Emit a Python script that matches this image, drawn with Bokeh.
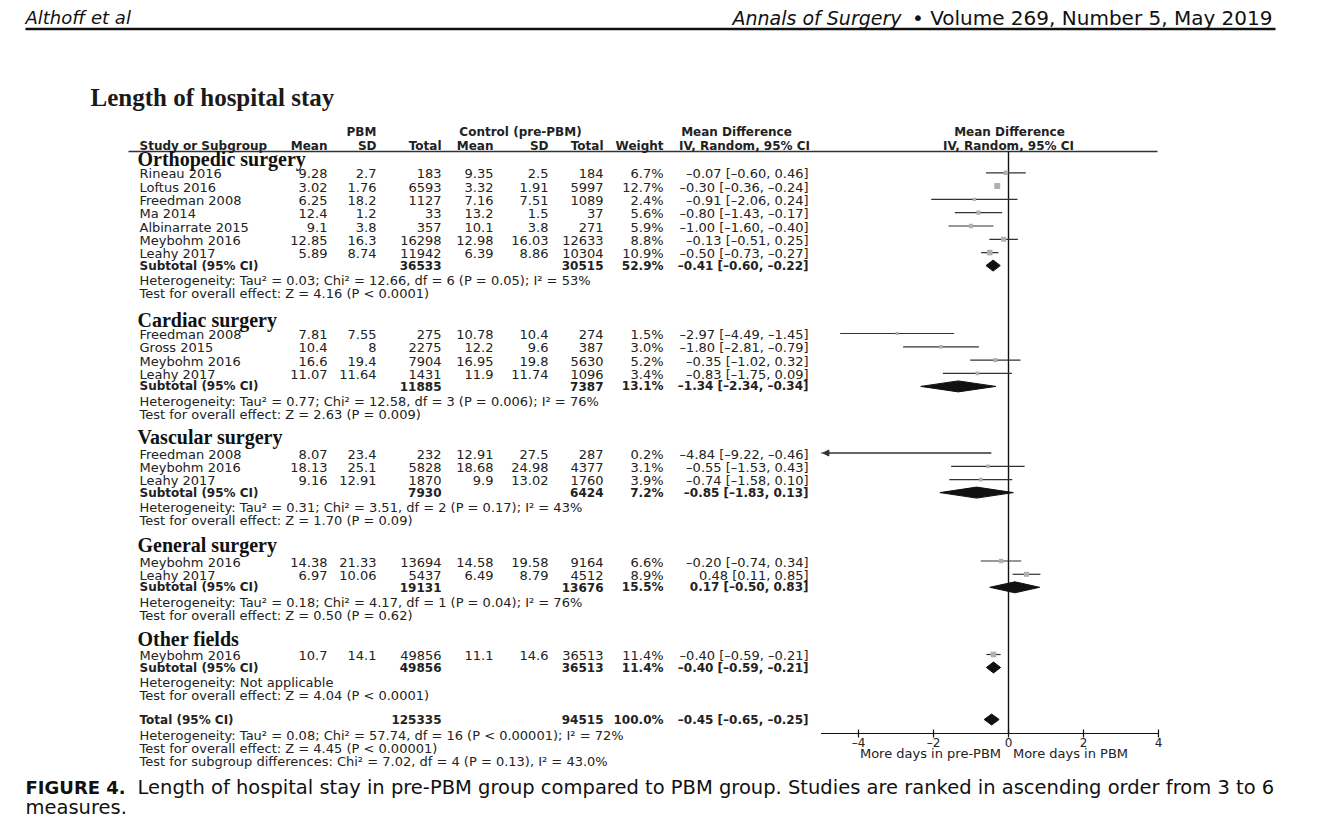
from bokeh.plotting import figure
from bokeh.models import ColumnDataSource, Range1d, Arrow, NormalHead
from bokeh.core.properties import value
from bokeh.embed import file_html
from bokeh.resources import INLINE

# ---------------- data ----------------
groups = ["Orthopedic surgery", "Cardiac surgery", "Vascular surgery",
          "General surgery", "Other fields"]
study = ["Rineau 2016", "Loftus 2016", "Freedman 2008", "Ma 2014", "Albinarrate 2015",
         "Meybohm 2016", "Leahy 2017",
         "Freedman 2008", "Gross 2015", "Meybohm 2016", "Leahy 2017",
         "Freedman 2008", "Meybohm 2016", "Leahy 2017",
         "Meybohm 2016", "Leahy 2017",
         "Meybohm 2016"]
group_idx = [0, 0, 0, 0, 0, 0, 0, 1, 1, 1, 1, 2, 2, 2, 3, 3, 4]
pbm_mean = [9.28, 3.02, 6.25, 12.4, 9.1, 12.85, 5.89, 7.81, 10.4, 16.6, 11.07,
            8.07, 18.13, 9.16, 14.38, 6.97, 10.7]
pbm_sd = [2.7, 1.76, 18.2, 1.2, 3.8, 16.3, 8.74, 7.55, 8, 19.4, 11.64,
          23.4, 25.1, 12.91, 21.33, 10.06, 14.1]
pbm_n = [183, 6593, 1127, 33, 357, 16298, 11942, 275, 2275, 7904, 1431,
         232, 5828, 1870, 13694, 5437, 49856]
ctl_mean = [9.35, 3.32, 7.16, 13.2, 10.1, 12.98, 6.39, 10.78, 12.2, 16.95, 11.9,
            12.91, 18.68, 9.9, 14.58, 6.49, 11.1]
ctl_sd = [2.5, 1.91, 7.51, 1.5, 3.8, 16.03, 8.86, 10.4, 9.6, 19.8, 11.74,
          27.5, 24.98, 13.02, 19.58, 8.79, 14.6]
ctl_n = [184, 5997, 1089, 37, 271, 12633, 10304, 274, 387, 5630, 1096,
         287, 4377, 1760, 9164, 4512, 36513]
weight = [6.7, 12.7, 2.4, 5.6, 5.9, 8.8, 10.9, 1.5, 3.0, 5.2, 3.4,
          0.2, 3.1, 3.9, 6.6, 8.9, 11.4]
md = [-0.07, -0.30, -0.91, -0.80, -1.00, -0.13, -0.50, -2.97, -1.80, -0.35, -0.83,
      -4.84, -0.55, -0.74, -0.20, 0.48, -0.40]
ci_lo = [-0.60, -0.36, -2.06, -1.43, -1.60, -0.51, -0.73, -4.49, -2.81, -1.02, -1.75,
         -9.22, -1.53, -1.58, -0.74, 0.11, -0.59]
ci_hi = [0.46, -0.24, 0.24, -0.17, -0.40, 0.25, -0.27, -1.45, -0.79, 0.32, 0.09,
         -0.46, 0.43, 0.10, 0.34, 0.85, -0.21]

sub_pbm_n = [36533, 11885, 7930, 19131, 49856]
sub_ctl_n = [30515, 7387, 6424, 13676, 36513]
sub_weight = [52.9, 13.1, 7.2, 15.5, 11.4]
sub_md = [-0.41, -1.34, -0.85, 0.17, -0.40]
sub_lo = [-0.60, -2.34, -1.83, -0.50, -0.59]
sub_hi = [-0.22, -0.34, 0.13, 0.83, -0.21]
sub_het = [
    "Heterogeneity: Tau² = 0.03; Chi² = 12.66, df = 6 (P = 0.05); I² = 53%",
    "Heterogeneity: Tau² = 0.77; Chi² = 12.58, df = 3 (P = 0.006); I² = 76%",
    "Heterogeneity: Tau² = 0.31; Chi² = 3.51, df = 2 (P = 0.17); I² = 43%",
    "Heterogeneity: Tau² = 0.18; Chi² = 4.17, df = 1 (P = 0.04); I² = 76%",
    "Heterogeneity: Not applicable",
]
sub_test = [
    "Test for overall effect: Z = 4.16 (P < 0.0001)",
    "Test for overall effect: Z = 2.63 (P = 0.009)",
    "Test for overall effect: Z = 1.70 (P = 0.09)",
    "Test for overall effect: Z = 0.50 (P = 0.62)",
    "Test for overall effect: Z = 4.04 (P < 0.0001)",
]
total_pbm_n = 125335
total_ctl_n = 94515
total_weight = 100.0
total_md, total_lo, total_hi = -0.45, -0.65, -0.25
total_notes = [
    "Heterogeneity: Tau² = 0.08; Chi² = 57.74, df = 16 (P < 0.00001); I² = 72%",
    "Test for overall effect: Z = 4.45 (P < 0.00001)",
    "Test for subgroup differences: Chi² = 7.02, df = 4 (P = 0.13), I² = 43.0%",
]
x_ticks = [-4, -2, 0, 2, 4]
axis_lo, axis_hi = -5, 4
favours_left = "More days in pre-PBM"
favours_right = "More days in PBM"

# ---------------- layout helpers ----------------
W, H = 1333, 821
X0, S = 1008.0, 37.5          # pixel of zero, pixels per day


def X(px):
    return (px - X0) / S


def dash(s):
    return s.replace("-", "\u2013")


def fnum(v):
    return dash(f"{v:g}")


def f2(v):
    return dash(f"{v:.2f}")


def ci_text(m, lo, hi):
    return f"{f2(m)} [{f2(lo)}, {f2(hi)}]"


p = figure(width=W, height=H, x_range=Range1d(X(0), X(W)), y_range=Range1d(H, 0),
           output_backend="svg", toolbar_location=None, min_border=0,
           x_axis_type=None, y_axis_type=None)
p.grid.visible = False
p.outline_line_color = None
p.background_fill_color = "white"
p.border_fill_color = "white"

texts = {}
SANS = "DejaVu Sans"
SERIF = "Liberation Serif"
TXT = "#222222"
BODY = "13px"
BOLD = "12px"
HEAD = "12px"


def add(px, py, s, font=SANS, size=BODY, style="normal", align="left", color=TXT):
    key = (font, size, style, align, color)
    d = texts.setdefault(key, {"x": [], "y": [], "t": []})
    d["x"].append(X(px))
    d["y"].append(py)
    d["t"].append(s)


# column right edges (pixels)
C_NAME = 139
C_PM, C_PSD, C_PN = 327, 376, 441
C_CM, C_CSD, C_CN = 493, 548, 603
C_W, C_CI = 663, 808

# page header
add(25, 17, "Althoff et al", size="18px", style="italic", color="#111")
add(901, 17, "Annals of Surgery", size="19px", style="italic", align="right", color="#111")
add(1272, 17, "\u2022 Volume 269, Number 5, May 2019", size="20px", align="right", color="#111")
add(90, 97, "Length of hospital stay", font=SERIF, size="25px", style="bold", color="#1a1a1a")

# table header
add(361, 131, "PBM", size=HEAD, style="bold", align="center")
add(520, 131, "Control (pre-PBM)", size=HEAD, style="bold", align="center")
add(736, 131, "Mean Difference", size=HEAD, style="bold", align="center")
add(744, 145, "IV, Random, 95% CI", size=HEAD, style="bold", align="center")
add(1009, 131, "Mean Difference", size=HEAD, style="bold", align="center")
add(1008, 145, "IV, Random, 95% CI", size=HEAD, style="bold", align="center")
add(C_NAME, 145, "Study or Subgroup", size=HEAD, style="bold")
for cx, lab in [(C_PM, "Mean"), (C_PSD, "SD"), (C_PN, "Total"), (C_CM, "Mean"),
                (C_CSD, "SD"), (C_CN, "Total"), (C_W, "Weight")]:
    add(cx, 145, lab, size=HEAD, style="bold", align="right")

header_y = [158.5, 319.5, 436.5, 544.5, 638.5]
first_row_y = [173.3, 334, 453.5, 561.5, 655]
ROW = 13.3

row_y = []
counter = {}
for i, g in enumerate(group_idx):
    k = counter.get(g, 0)
    row_y.append(first_row_y[g] + k * ROW)
    counter[g] = k + 1

sub_y = []
for g in range(len(groups)):
    last = max(row_y[i] for i in range(len(study)) if group_idx[i] == g)
    sub_y.append(last + 12)

for g, name in enumerate(groups):
    add(137, header_y[g], name, font=SERIF, size="20px", style="bold", color="#111")

for i, s in enumerate(study):
    y = row_y[i]
    add(C_NAME, y, s)
    add(C_PM, y, fnum(pbm_mean[i]), align="right")
    add(C_PSD, y, fnum(pbm_sd[i]), align="right")
    add(C_PN, y, str(pbm_n[i]), align="right")
    add(C_CM, y, fnum(ctl_mean[i]), align="right")
    add(C_CSD, y, fnum(ctl_sd[i]), align="right")
    add(C_CN, y, str(ctl_n[i]), align="right")
    add(C_W, y, f"{weight[i]:.1f}%", align="right")
    add(C_CI, y, ci_text(md[i], ci_lo[i], ci_hi[i]), align="right")

for g in range(len(groups)):
    y = sub_y[g]
    add(C_NAME, y, "Subtotal (95% CI)", size=BOLD, style="bold")
    add(C_PN, y, str(sub_pbm_n[g]), size=BOLD, style="bold", align="right")
    add(C_CN, y, str(sub_ctl_n[g]), size=BOLD, style="bold", align="right")
    add(C_W, y, f"{sub_weight[g]:.1f}%", size=BOLD, style="bold", align="right")
    add(C_CI, y, ci_text(sub_md[g], sub_lo[g], sub_hi[g]), size=BOLD, style="bold", align="right")
    add(C_NAME, y + 15, sub_het[g])
    add(C_NAME, y + 28.3, sub_test[g])

TOT_Y = 719
add(C_NAME, TOT_Y, "Total (95% CI)", size=BOLD, style="bold")
add(C_PN, TOT_Y, str(total_pbm_n), size=BOLD, style="bold", align="right")
add(C_CN, TOT_Y, str(total_ctl_n), size=BOLD, style="bold", align="right")
add(C_W, TOT_Y, f"{total_weight:.1f}%", size=BOLD, style="bold", align="right")
add(C_CI, TOT_Y, ci_text(total_md, total_lo, total_hi), size=BOLD, style="bold", align="right")
for k, s in enumerate(total_notes):
    add(C_NAME, 735 + k * 13, s)

# axis labels
AX_Y = 733
for t in x_ticks:
    add(X0 + t * S, 742, fnum(t), size="12px", align="center")
add(930, 753, favours_left, size="13px", align="center")
add(1070, 753, favours_right, size="13px", align="center")

# caption
add(25, 787, "FIGURE 4.", size="18px", style="bold", color="#111")
add(137, 787, "Length of hospital stay in pre-PBM group compared to PBM group. "
    "Studies are ranked in ascending order from 3 to 6", size="19.5px", color="#111")
add(25, 807, "measures.", size="19.5px", color="#111")

# ---------------- rules ----------------
p.segment(x0=[X(25)], x1=[X(1275)], y0=[28.5], y1=[28.5], line_color="#111", line_width=2.5)
p.segment(x0=[X(128)], x1=[X(1157)], y0=[151], y1=[151], line_color="#333", line_width=1.3)
p.segment(x0=[0], x1=[0], y0=[151], y1=[AX_Y], line_color="#111", line_width=1.4)
p.segment(x0=[axis_lo], x1=[axis_hi], y0=[AX_Y], y1=[AX_Y], line_color="#111", line_width=1.2)
p.segment(x0=x_ticks, x1=x_ticks, y0=[AX_Y - 4] * len(x_ticks), y1=[AX_Y + 4] * len(x_ticks),
          line_color="#111", line_width=1.2)

# ---------------- forest ----------------
fy = [y - 1 for y in row_y]
lo_clip = [max(v, axis_lo) for v in ci_lo]
hi_clip = [min(v, axis_hi) for v in ci_hi]
p.segment(x0=lo_clip, x1=hi_clip, y0=fy, y1=fy, line_color="#333", line_width=1.2)
for i in range(len(study)):
    if ci_lo[i] < axis_lo:
        p.add_layout(Arrow(x_start=hi_clip[i], y_start=fy[i], x_end=axis_lo + 0.05, y_end=fy[i],
                           line_color="#333", line_width=1.2,
                           end=NormalHead(size=6, fill_color="#333", line_color="#333")))
sizes = [2.8 + 0.25 * w for w in weight]
p.scatter(x=md, y=fy, size=sizes, marker="square", fill_color="#b0b0b0", line_color=None)

DH = 5.5
dxs, dys = [], []
for g in range(len(groups)):
    y = sub_y[g]
    dxs.append([sub_lo[g], sub_md[g], sub_hi[g], sub_md[g]])
    dys.append([y, y - DH, y, y + DH])
dxs.append([total_lo, total_md, total_hi, total_md])
dys.append([TOT_Y, TOT_Y - DH, TOT_Y, TOT_Y + DH])
p.patches(xs=dxs, ys=dys, fill_color="#111", line_color="#111")

for (font, size, style, align, color), d in texts.items():
    p.text(x="x", y="y", text="t", source=ColumnDataSource(d),
           text_font=value(font), text_font_size=value(size), text_font_style=style,
           text_align=align, text_baseline="middle", text_color=color)

open("out.html", "w").write(file_html(p, INLINE))
